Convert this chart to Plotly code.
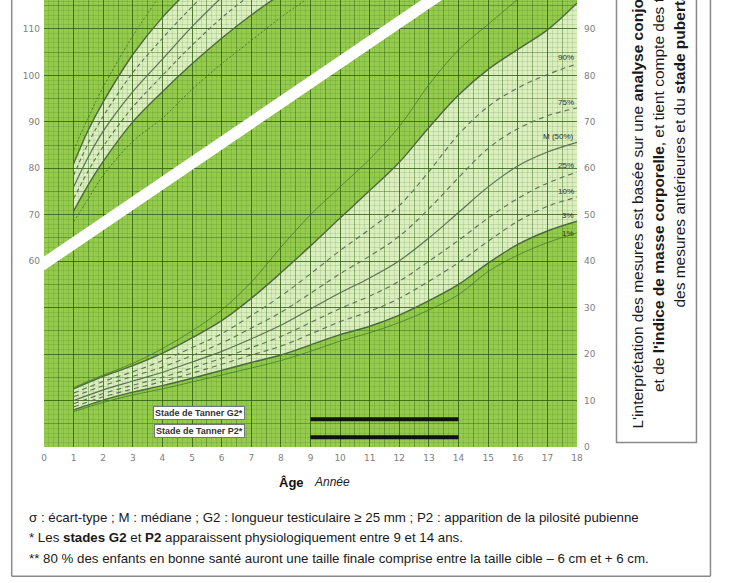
import plotly.graph_objects as go

# ---------------- DATA ----------------
# Weight percentiles (kg) by age (years)
ages_w = list(range(1, 19))
w_p97 = [12.5, 15.2, 17.5, 20.2, 23.5, 27.2, 32.0, 37.5, 43.3, 49.3, 55.2, 61.3, 68.8, 75.8, 81.3, 85.6, 89.8, 95.6]
w_p90 = [11.6, 14.1, 16.2, 18.6, 21.4, 24.4, 28.3, 32.5, 37.3, 42.3, 46.9, 52.0, 59.3, 67.3, 73.3, 77.3, 80.2, 82.5]
w_p75 = [10.8, 13.2, 15.2, 17.2, 19.7, 22.4, 25.6, 29.0, 33.1, 37.3, 41.1, 45.4, 51.3, 58.0, 64.3, 68.5, 71.3, 73.0]
w_p50 = [10.0, 12.3, 14.2, 16.1, 18.3, 20.6, 23.3, 26.2, 29.7, 33.2, 36.4, 40.1, 45.0, 50.5, 56.0, 60.5, 63.5, 65.6]
w_p25 = [9.3, 11.5, 13.3, 15.0, 17.0, 19.1, 21.4, 23.8, 26.8, 29.8, 32.5, 35.7, 40.0, 44.5, 49.3, 53.5, 56.8, 59.2]
w_p10 = [8.6, 10.8, 12.5, 14.1, 15.9, 17.8, 19.8, 21.7, 24.3, 27.0, 29.2, 32.0, 35.7, 39.7, 44.3, 48.6, 51.8, 53.8]
w_p3 = [8.0, 10.1, 11.8, 13.2, 14.8, 16.5, 18.2, 19.8, 22.0, 24.2, 26.0, 28.4, 31.5, 35.0, 39.6, 43.6, 46.5, 48.6]
w_p1 = [7.6, 9.6, 11.2, 12.5, 14.0, 15.5, 17.0, 18.6, 20.6, 22.8, 24.6, 26.8, 29.5, 32.8, 37.8, 41.3, 44.0, 46.1]
ages_w99 = list(range(1, 17))
w_p99 = [12.8, 15.5, 18.0, 21.2, 25.0, 29.5, 35.5, 43.0, 50.0, 56.0, 62.0, 69.0, 78.0, 85.5, 91.0, 96.4]

# Height curves (cm) by age (years)
ages_h = [1, 1.5, 2, 3, 4, 5, 6, 7, 8, 9]
h_p3s = [84.0, 91.0, 97.5, 108.5, 118.0]
h_p2s = [81.0, 88.3, 94.3, 104.5, 112.5, 119.0]
h_p1s = [78.5, 85.5, 91.2, 100.6, 108.0, 114.8, 121.0]
h_m = [76.0, 82.5, 88.0, 96.5, 103.5, 110.5, 116.8]
h_m1s = [73.5, 79.5, 84.7, 93.2, 100.0, 106.5, 112.4, 117.5]
h_m2s = [70.8, 76.5, 81.5, 90.0, 96.5, 102.5, 108.0, 113.0, 117.5]
h_m3s = [68.5, 73.5, 78.5, 85.8, 90.8, 97.0, 102.5, 107.5, 112.5, 117.0]

# White separating band (weight-axis units)
band_ages = [0, 18]
band_lower = [38.0, 116.0]
band_upper = [41.0, 119.0]

# Percentile labels
pct_labels = ["90%", "75%", "M (50%)", "25%", "10%", "3%", "1%"]
pct_label_y = [83.8, 74.2, 66.9, 60.6, 55.0, 49.9, 45.9]

# Tanner stages
tanner_names = ["Stade de Tanner G2*", "Stade de Tanner P2*"]
tanner_start = [9, 9]
tanner_end = [14, 14]
tanner_level = [6.0, 2.1]
tanner_label_y = [7.4, 3.4]
tanner_label_x = 5.25

x_ticks = list(range(0, 19))
right_ticks = list(range(0, 100, 10))
left_w_ticks = [0, 10, 20, 30]
left_h_ticks = [60, 70, 80, 90, 100, 110]

# ---------------- LAYOUT GEOMETRY ----------------
W, H = 730, 583
PL, PR, PT, PB = 44.3, 577.5, 0.0, 447.5
YMAX = (PB - PT) / 4.65
HOFF = 20  # height axis offset

def xp(px):
    return (px - PL) / (PR - PL)

def yp(py):
    return (PB - py) / (PB - PT)

GREEN = "#94cb4c"
LIGHT = "#dbeebe"
LINE = "#5b7252"
EDGE = "#4b6a3c"
THIN = "#447d28"

fig = go.Figure()

def band_path(xs, top, xs2, bot):
    pts = list(zip(xs, top)) + list(zip(xs2[::-1], bot[::-1]))
    return "M " + " L ".join(f"{x},{y}" for x, y in pts) + " Z"

shapes = []
shapes.append(dict(type="path", xref="x", yref="y", layer="below",
                   path=band_path(ages_w, w_p97, ages_w, w_p3),
                   fillcolor=LIGHT, line=dict(width=0)))
shapes.append(dict(type="path", xref="x", yref="y2", layer="below",
                   path=band_path(ages_h[:len(h_p2s)], h_p2s, ages_h[:len(h_m2s)], h_m2s),
                   fillcolor=LIGHT, line=dict(width=0)))

fig.add_trace(go.Scatter(x=band_ages + band_ages[::-1], y=band_lower + band_upper[::-1],
                         fill="toself", fillcolor="white", mode="lines", line=dict(width=0),
                         hoverinfo="skip", showlegend=False))

def add_line(x, y, yaxis="y", color=LINE, width=1.2, dash="solid", shape="linear"):
    fig.add_trace(go.Scatter(x=x, y=y, yaxis=yaxis, mode="lines",
                             line=dict(color=color, width=width, dash=dash, shape=shape),
                             hoverinfo="skip", showlegend=False))

# weight curves
add_line(ages_w99, w_p99, color=THIN, width=0.8, shape="spline")
add_line(ages_w, w_p1, color=THIN, width=0.8, shape="spline")
add_line(ages_w, w_p97, color=EDGE, width=1.4, shape="spline")
add_line(ages_w, w_p3, color=EDGE, width=1.4, shape="spline")
add_line(ages_w, w_p50, width=1.2, shape="spline")
for s in (w_p90, w_p75, w_p25, w_p10):
    add_line(ages_w, s, width=1.1, dash="5px,4px", shape="spline")

# height curves
add_line(ages_h[:len(h_p3s)], h_p3s, yaxis="y2", color=THIN, width=1, dash="2px,2px", shape="spline")
add_line(ages_h[:len(h_m3s)], h_m3s, yaxis="y2", color=THIN, width=1, dash="2px,2px", shape="spline")
add_line(ages_h[:len(h_p2s)], h_p2s, yaxis="y2", color=EDGE, width=1.4, shape="spline")
add_line(ages_h[:len(h_m2s)], h_m2s, yaxis="y2", color=EDGE, width=1.4, shape="spline")
add_line(ages_h[:len(h_m)], h_m, yaxis="y2", width=1.2, shape="spline")
add_line(ages_h[:len(h_p1s)], h_p1s, yaxis="y2", width=1.1, dash="4px,3px", shape="spline")
add_line(ages_h[:len(h_m1s)], h_m1s, yaxis="y2", width=1.1, dash="4px,3px", shape="spline")

# Tanner bars
for s, e, lv in zip(tanner_start, tanner_end, tanner_level):
    fig.add_trace(go.Scatter(x=[s, e], y=[lv, lv], mode="lines",
                             line=dict(color="#111", width=4), hoverinfo="skip", showlegend=False))

# dummy trace for fine-grid axes
fig.add_trace(go.Scatter(x=[None], y=[None], xaxis="x2", yaxis="y4", showlegend=False))

TXT = "Liberation Sans"
annotations = []
for t, y in zip(pct_labels, pct_label_y):
    annotations.append(dict(x=17.97, y=y, xref="x", yref="y", text=t, showarrow=False,
                            xanchor="right", yanchor="middle",
                            font=dict(size=8, color="#333", family=TXT)))
for t, y in zip(tanner_names, tanner_label_y):
    annotations.append(dict(x=tanner_label_x, y=y, xref="x", yref="y", text="<b>" + t + "</b>",
                            showarrow=False, bgcolor="white", bordercolor="#777", borderwidth=1,
                            borderpad=1, font=dict(size=9, color="#333", family=TXT)))

annotations.append(dict(x=xp(277), y=yp(483), xref="paper", yref="paper", text="<b>Âge</b>",
                        showarrow=False, xanchor="left", yanchor="middle",
                        font=dict(size=13, color="#111", family=TXT)))
annotations.append(dict(x=xp(312), y=yp(483), xref="paper", yref="paper", text="<i>Année</i>",
                        showarrow=False, xanchor="left", yanchor="middle",
                        font=dict(size=12, color="#222", family=TXT)))

notes = [
    "σ : écart-type ; M : médiane ; G2 : longueur testiculaire ≥ 25 mm ; P2 : apparition de la pilosité pubienne",
    "* Les <b>stades G2</b> et <b>P2</b> apparaissent physiologiquement entre 9 et 14 ans.",
    "** 80 % des enfants en bonne santé auront une taille finale comprise entre la taille cible – 6 cm et + 6 cm.",
]
for t, py in zip(notes, [518, 538, 559]):
    annotations.append(dict(x=xp(27), y=yp(py), xref="paper", yref="paper", text=t,
                            showarrow=False, xanchor="left", yanchor="middle",
                            font=dict(size=13.3, color="#1a1a1a", family=TXT)))

side_lines = [
    "L'interprétation des mesures est basée sur une <b>analyse conjointe de la taille, du poids</b>",
    "et de <b>l'indice de masse corporelle</b>, et tient compte des <b>tendances</b>",
    "des mesures antérieures et du <b>stade pubertaire</b>.",
]
for t, px, py in zip(side_lines, [638, 659, 680], [431, 394, 310]):
    annotations.append(dict(x=xp(px), y=yp(py), xref="paper", yref="paper", text=t,
                            showarrow=False, textangle=-90, xanchor="center", yanchor="bottom",
                            font=dict(size=15.5, color="#1a1a1a", family=TXT)))

for x0, y0, x1, y1 in [(12, -5, 12, 577), (12, 577, 711, 577), (711, -5, 711, 577)]:
    shapes.append(dict(type="line", xref="paper", yref="paper", x0=xp(x0), y0=yp(y0), x1=xp(x1), y1=yp(y1),
                       line=dict(color="#8a8a8a", width=1.5)))
shapes.append(dict(type="rect", xref="paper", yref="paper", x0=xp(617), y0=yp(-10), x1=xp(697), y1=yp(443),
                   line=dict(color="#8a8a8a", width=1.5), fillcolor="rgba(0,0,0,0)"))

MAJ = "rgba(40,90,15,0.62)"
MID = "rgba(40,90,15,0.32)"
FINE = "rgba(40,90,15,0.13)"
TICKF = dict(size=9, color="#808080", family="DejaVu Sans")

fig.update_layout(
    width=W, height=H,
    margin=dict(l=PL, r=W - PR, t=PT, b=H - PB, pad=0),
    paper_bgcolor="white", plot_bgcolor=GREEN,
    showlegend=False,
    shapes=shapes, annotations=annotations,
    xaxis=dict(range=[0, 18], tickvals=x_ticks, showgrid=True, gridcolor=MAJ, gridwidth=1.2,
               minor=dict(tickmode="linear", tick0=0, dtick=0.5, showgrid=True, gridcolor=MID, gridwidth=1),
               zeroline=False, showline=False, ticks="", tickfont=TICKF, ticklabelstandoff=4),
    yaxis=dict(range=[0, YMAX], side="right", tickvals=right_ticks, showgrid=True, gridcolor=MAJ, gridwidth=1.2,
               minor=dict(tickmode="linear", tick0=0, dtick=5, showgrid=True, gridcolor=MID, gridwidth=1),
               zeroline=False, showline=False, ticks="", tickfont=TICKF, ticklabelstandoff=6),
    yaxis2=dict(range=[HOFF, YMAX + HOFF], overlaying="y", side="left", tickvals=left_h_ticks,
                showgrid=False, zeroline=False, showline=False, ticks="", tickfont=TICKF, ticklabelstandoff=3),
    yaxis3=dict(range=[0, YMAX], overlaying="y", side="left", tickvals=left_w_ticks,
                showgrid=False, zeroline=False, showline=False, ticks="", tickfont=TICKF, ticklabelstandoff=3),
    xaxis2=dict(range=[0, 18], overlaying="x", anchor="y4", dtick=1 / 6, tick0=0, showgrid=True,
                gridcolor=FINE, gridwidth=1, showticklabels=False, zeroline=False, ticks=""),
    yaxis4=dict(range=[0, YMAX], overlaying="y", anchor="x2", dtick=1, tick0=0, showgrid=True,
                gridcolor=FINE, gridwidth=1, showticklabels=False, zeroline=False, ticks=""),
)

fig.write_html("out.html")
